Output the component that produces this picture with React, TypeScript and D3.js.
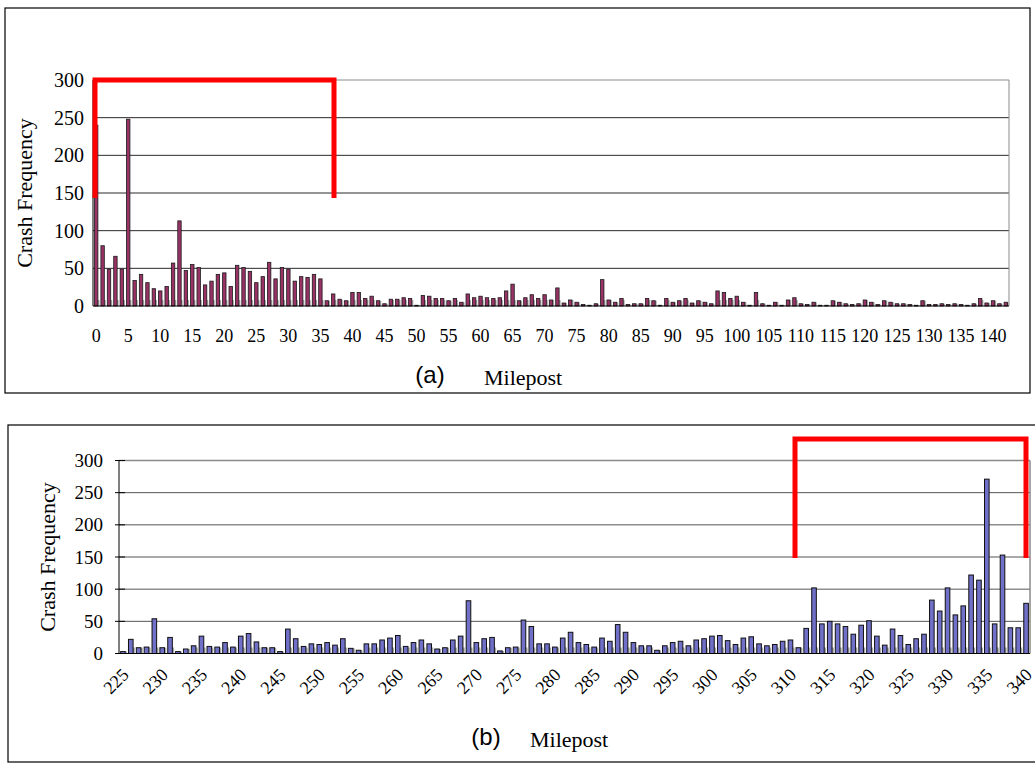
import React from "react";
import * as d3 from "d3";

// ---------- Data ----------
const milepostsA: number[] = d3.range(0, 143);
const crashesA: number[] = [
  240, 80, 49, 66, 49, 248, 34, 42, 31, 23,
  20, 26, 57, 113, 47, 55, 51, 28, 33, 42,
  44, 26, 54, 51, 46, 31, 39, 58, 36, 51,
  49, 33, 39, 38, 42, 36, 7, 16, 9, 7,
  18, 18, 10, 13, 7, 3, 9, 9, 11, 10,
  1, 14, 13, 10, 10, 7, 10, 5, 16, 11,
  13, 11, 10, 11, 20, 29, 7, 11, 15, 10,
  15, 8, 24, 4, 8, 5, 2, 1, 3, 35,
  8, 5, 10, 2, 3, 3, 10, 7, 1, 10,
  5, 7, 10, 4, 7, 5, 3, 20, 18, 10,
  13, 5, 1, 18, 3, 1, 5, 1, 8, 11,
  3, 2, 5, 1, 1, 7, 5, 3, 2, 3,
  8, 5, 2, 7, 5, 3, 3, 2, 1, 7,
  2, 2, 3, 2, 3, 2, 1, 3, 10, 4,
  7, 3, 5,
];
const ticksA: number[] = [0, 5, 10, 15, 20, 25, 30, 35, 40, 45, 50, 55, 60, 65, 70, 75, 80, 85, 90, 95, 100, 105, 110, 115, 120, 125, 130, 135, 140];

const milepostsB: number[] = d3.range(225, 341);
const crashesB: number[] = [
  3, 22, 9, 10, 54, 9, 25, 3, 7, 12,
  27, 11, 10, 17, 10, 27, 31, 18, 9, 9,
  3, 38, 23, 11, 15, 14, 17, 13, 23, 8,
  5, 15, 15, 21, 24, 28, 11, 17, 21, 15,
  7, 9, 21, 27, 82, 17, 23, 25, 4, 9,
  10, 52, 42, 15, 15, 10, 24, 33, 17, 14,
  10, 24, 19, 45, 33, 17, 12, 12, 5, 12,
  17, 19, 12, 21, 23, 27, 28, 20, 14, 24,
  26, 15, 12, 14, 19, 21, 9, 39, 102, 46,
  50, 46, 42, 30, 44, 51, 27, 13, 38, 28,
  14, 23, 30, 83, 66, 102, 60, 74, 122, 114,
  271, 46, 153, 40, 40, 78,
];
const ticksB: number[] = [225, 230, 235, 240, 245, 250, 255, 260, 265, 270, 275, 280, 285, 290, 295, 300, 305, 310, 315, 320, 325, 330, 335, 340];

const yTicks: number[] = [0, 50, 100, 150, 200, 250, 300];

const SERIF = "'Liberation Serif', 'Times New Roman', serif";
const SANS = "'Liberation Sans', Arial, sans-serif";

export default function App() {
  // Panel A scales
  const xA = d3.scaleBand<number>().domain(milepostsA).range([93, 1009]).padding(0);
  const yA = d3.scaleLinear().domain([0, 300]).range([306, 80]);
  const bwA = 3.4;

  // Panel B scales
  const xB = d3.scaleBand<number>().domain(milepostsB).range([119, 1030]).padding(0);
  const yB = d3.scaleLinear().domain([0, 300]).range([653.5, 460.5]);
  const bwB = 4.6;

  return (
    <svg width={1035} height={767} style={{ position: "absolute", left: 0, top: 0, background: "#fff" }}>
      <rect x={0} y={0} width={1035} height={767} fill="#fff" />
      {/* ---------- Panel A ---------- */}
      <rect x={5} y={8} width={1025} height={385} fill="#fff" stroke="#000" strokeWidth={1.2} />
      {yTicks.filter((t) => t > 0).map((t) => (
        <line key={"ga" + t} x1={93} x2={1009} y1={yA(t)} y2={yA(t)} stroke={t === 300 ? "#8a8a8a" : "#2a2a2a"} strokeWidth={1} />
      ))}
      <line x1={1009} x2={1009} y1={yA(300)} y2={yA(0)} stroke="#8a8a8a" strokeWidth={1} />
      {milepostsA.map((m, i) => {
        const cx = (xA(m) as number) + xA.bandwidth() / 2;
        const h = yA(0) - yA(crashesA[i]);
        return (
          <g key={"ba" + m}>
            <rect x={cx - bwA / 2 + 1.5} y={yA(0) - Math.min(6, h)} width={bwA} height={Math.min(6, h)} fill="#a8a8a8" />
            <rect x={cx - bwA / 2} y={yA(crashesA[i])} width={bwA} height={h} fill="#993366" stroke="#1a1a1a" strokeWidth={0.8} />
          </g>
        );
      })}
      <line x1={93} x2={93} y1={yA(300)} y2={yA(0)} stroke="#000" strokeWidth={1} />
      <line x1={93} x2={1009} y1={yA(0)} y2={yA(0)} stroke="#000" strokeWidth={1.2} />
      {yTicks.map((t) => (
        <text key={"ya" + t} x={84} y={yA(t)} dy="0.35em" textAnchor="end" fontFamily={SERIF} fontSize={20} fill="#000">{t}</text>
      ))}
      {ticksA.map((t) => (
        <text key={"xa" + t} x={(xA(t) as number) + xA.bandwidth() / 2} y={342} textAnchor="middle" fontFamily={SERIF} fontSize={18} fill="#000">{t}</text>
      ))}
      <text transform="translate(32,193) rotate(-90)" textAnchor="middle" fontFamily={SERIF} fontSize={22} fill="#000">Crash Frequency</text>
      <text x={430} y={383} textAnchor="middle" fontFamily={SANS} fontSize={24} fill="#000">(a)</text>
      <text x={484} y={385} fontFamily={SERIF} fontSize={22} fill="#000">Milepost</text>
      <path d={`M95,198 V80 H334 V198`} fill="none" stroke="#ff0000" strokeWidth={5} strokeLinejoin="miter" />

      {/* ---------- Panel B ---------- */}
      <rect x={8} y={425} width={1040} height={337} fill="#fff" stroke="#000" strokeWidth={1.2} />
      {yTicks.filter((t) => t > 0).map((t) => (
        <line key={"gb" + t} x1={119} x2={1030} y1={yB(t)} y2={yB(t)} stroke={t === 300 ? "#8a8a8a" : "#555"} strokeWidth={t === 300 ? 1.5 : 1} />
      ))}
      <line x1={1030} x2={1030} y1={yB(300)} y2={yB(0)} stroke="#8a8a8a" strokeWidth={1.5} />
      {milepostsB.map((m, i) => {
        const cx = (xB(m) as number) + xB.bandwidth() / 2;
        const h = yB(0) - yB(crashesB[i]);
        return (
          <g key={"bb" + m}>
            <rect x={cx - bwB / 2 + 1.8} y={yB(0) - Math.min(6, h)} width={bwB} height={Math.min(6, h)} fill="#a8a8a8" />
            <rect x={cx - bwB / 2} y={yB(crashesB[i])} width={bwB} height={h} fill="#7070c8" stroke="#111" strokeWidth={1} />
          </g>
        );
      })}
      <line x1={119} x2={119} y1={yB(300)} y2={yB(0)} stroke="#000" strokeWidth={1} />
      {yTicks.map((t) => (
        <line key={"tb" + t} x1={115} x2={125} y1={yB(t)} y2={yB(t)} stroke="#000" strokeWidth={1} />
      ))}
      <line x1={119} x2={1030} y1={yB(0)} y2={yB(0)} stroke="#000" strokeWidth={1.2} />
      {yTicks.map((t) => (
        <text key={"yb" + t} x={103} y={yB(t)} dy="0.35em" textAnchor="end" fontFamily={SERIF} fontSize={19} fill="#000">{t}</text>
      ))}
      {ticksB.map((t) => {
        const cx = (xB(t) as number) + xB.bandwidth() / 2;
        return (
          <text key={"xb" + t} transform={`translate(${cx - 2},${667}) rotate(-45)`} textAnchor="end" dy="0.7em" fontFamily={SERIF} fontSize={18} fill="#000">{t}</text>
        );
      })}
      <text transform="translate(55,557) rotate(-90)" textAnchor="middle" fontFamily={SERIF} fontSize={22} fill="#000">Crash Frequency</text>
      <text x={486} y={745} textAnchor="middle" fontFamily={SANS} fontSize={24} fill="#000">(b)</text>
      <text x={530} y={747} fontFamily={SERIF} fontSize={22} fill="#000">Milepost</text>
      <path d={`M795,558 V439 H1026 V558`} fill="none" stroke="#ff0000" strokeWidth={5} strokeLinejoin="miter" />
    </svg>
  );
}
